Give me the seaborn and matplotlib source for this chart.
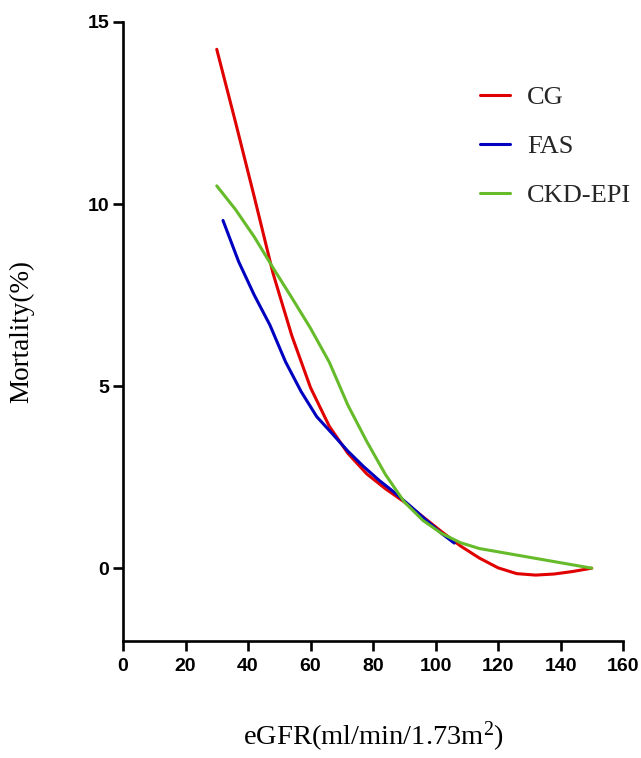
import numpy as np
import pandas as pd
import matplotlib
matplotlib.use("Agg")
import matplotlib.pyplot as plt
import seaborn as sns

# values
cg_x = [30, 36, 42, 48, 54, 60, 66, 72, 78, 84, 90, 96, 102, 108, 114, 120, 126, 132, 138, 144, 150]
cg_y = [14.25, 12.25, 10.2, 8.1, 6.39, 4.96, 3.9, 3.15, 2.59, 2.18, 1.82, 1.41, 1.0, 0.61, 0.28, 0.01, -0.15, -0.19, -0.16, -0.09, 0.0]

fas_x = [32, 37, 42, 47, 52, 57, 62, 67, 72, 77, 82, 87, 92, 97, 102, 106]
fas_y = [9.55, 8.42, 7.5, 6.68, 5.67, 4.85, 4.16, 3.69, 3.21, 2.79, 2.41, 2.07, 1.7, 1.32, 0.95, 0.69]

ckd_x = [30, 36, 42, 48, 54, 60, 66, 72, 78, 84, 90, 96, 102, 108, 114, 120, 126, 132, 138, 144, 150]
ckd_y = [10.5, 9.85, 9.1, 8.25, 7.43, 6.59, 5.66, 4.47, 3.48, 2.57, 1.82, 1.31, 0.95, 0.7, 0.54, 0.45, 0.36, 0.27, 0.18, 0.09, 0.0]

formulas = ["CG", "FAS", "CKD-EPI"]
colors = ["#E00000", "#0000C0", "#66BB2A"]

x_ticks = [0, 20, 40, 60, 80, 100, 120, 140, 160]
y_ticks = [0, 5, 10, 15]

df = pd.concat([
    pd.DataFrame({"eGFR": cg_x, "Mortality": cg_y, "Formula": "CG"}),
    pd.DataFrame({"eGFR": fas_x, "Mortality": fas_y, "Formula": "FAS"}),
    pd.DataFrame({"eGFR": ckd_x, "Mortality": ckd_y, "Formula": "CKD-EPI"}),
], ignore_index=True)

sns.set_style("ticks")
plt.rcParams["mathtext.fontset"] = "custom"
plt.rcParams["mathtext.rm"] = "Liberation Serif"
plt.rcParams["mathtext.it"] = "Liberation Serif:italic"

fig = plt.figure(figsize=(6.41, 7.58), dpi=100)
ax = fig.add_axes([123 / 641, 117 / 758, 500 / 641, 619 / 758])

sns.lineplot(data=df, x="eGFR", y="Mortality", hue="Formula", hue_order=formulas,
             palette=colors, linewidth=2.2, estimator=None, sort=True, ax=ax)

ax.set_xlim(0, 160)
ax.set_ylim(-2, 15)
ax.set_xticks(x_ticks)
ax.set_yticks(y_ticks)
sns.despine(ax=ax)
for side in ["left", "bottom"]:
    ax.spines[side].set_linewidth(1.9)
    ax.spines[side].set_color("black")
ax.tick_params(axis="both", length=7, width=1.9, color="black", pad=3)
ax.tick_params(axis="x", pad=5)
for lab in ax.get_xticklabels() + ax.get_yticklabels():
    lab.set_fontfamily("Liberation Sans")
    lab.set_fontweight("bold")
    lab.set_fontsize(14)
    lab.set_color("black")

ax.set_xlabel(r"eGFR(ml/min/1.73m$^2$)", family="Liberation Serif", fontsize=20.5, color="black")
ax.set_ylabel("Mortality(%)", family="Liberation Serif", fontsize=19.5, color="black")
ax.xaxis.set_label_coords(0.5, -0.128)
ax.yaxis.set_label_coords(-0.178, 0.5)

leg = ax.legend(loc="upper left", bbox_to_anchor=(0.714, 0.897), frameon=False,
                prop={"family": "Liberation Serif", "size": 19},
                handlelength=1.15, handletextpad=0.64, labelspacing=0.96,
                borderpad=0, borderaxespad=0)
for line in leg.get_lines():
    line.set_linewidth(2.2)

fig.savefig("out.png", dpi=100)
